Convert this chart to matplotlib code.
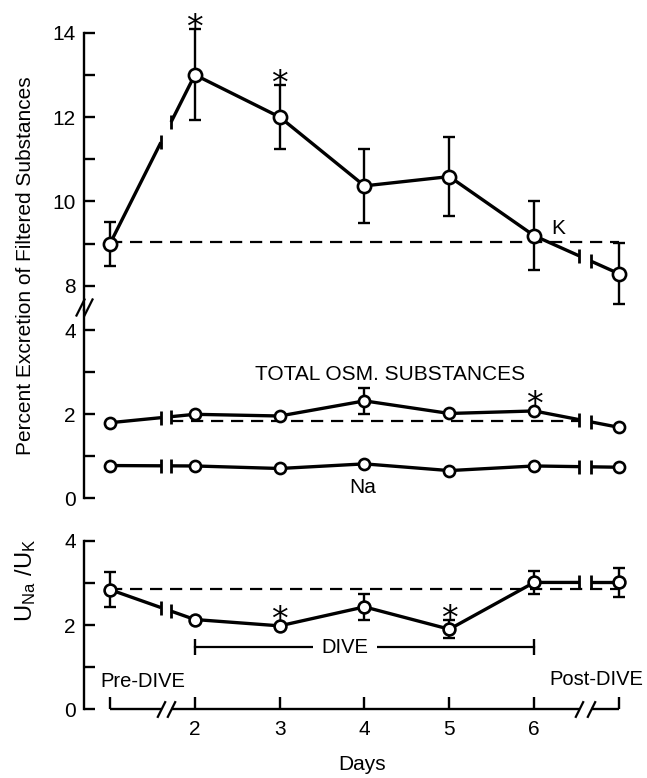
import matplotlib.pyplot as plt
import numpy as np

plt.rcParams['font.family'] = ['Liberation Sans', 'DejaVu Sans']
plt.rcParams['mathtext.default'] = 'regular'

# Values
days = np.array([1, 2, 3, 4, 5, 6, 7])
day_labels = ['', '2', '3', '4', '5', '6', '']

k_mean = np.array([9.0, 13.0, 12.0, 10.37, 10.59, 9.19, 8.29])
k_err = np.array([0.52, 1.08, 0.75, 0.87, 0.93, 0.81, 0.72])
k_pre = 9.05
k_sig = [2, 3]

osm_mean = np.array([1.80, 2.00, 1.96, 2.32, 2.02, 2.08, 1.69])
osm_err = np.array([0, 0, 0, 0.31, 0, 0, 0])
osm_pre = 1.85
osm_sig = [6]

na_mean = np.array([0.78, 0.77, 0.71, 0.82, 0.66, 0.77, 0.74])
na_err = np.zeros(7)

ratio_mean = np.array([2.84, 2.13, 1.98, 2.43, 1.90, 3.01, 3.01])
ratio_err = np.array([0.41, 0, 0, 0.31, 0.22, 0.28, 0.34])
ratio_pre = 2.86
ratio_sig = [3, 5]

dive_days = [2, 6]

# axis breaks between pre-dive / dive and dive / post-dive
gaps = [(1.60, 1.72), (6.53, 6.67)]
gap_x = np.ravel(gaps)

LW = 2.4
XLIM = (0.6934, 7.2476)


def draw_series(ax, mean, err, ms=8.5):
    xs = np.sort(np.concatenate([days, gap_x]))
    ys = np.interp(xs, days, mean)
    pieces = [xs <= gaps[0][0], (xs >= gaps[0][1]) & (xs <= gaps[1][0]), xs >= gaps[1][1]]
    for m in pieces:
        ax.plot(xs[m], ys[m], color='k', lw=LW, solid_capstyle='butt', zorder=2)
    ax.plot(gap_x, np.interp(gap_x, days, mean), ls='none', marker='|',
            ms=10, mew=2, color='k', zorder=2)
    has_err = err > 0
    ax.errorbar(days[has_err], mean[has_err], yerr=err[has_err], fmt='none',
                ecolor='k', elinewidth=1.7, capsize=4.5, capthick=1.7,
                clip_on=False, zorder=3)
    ax.plot(days, mean, ls='none', marker='o', ms=ms, mfc='white', mec='k',
            mew=1.9, clip_on=False, zorder=4)


def star(ax, sig, mean, err):
    for d in sig:
        i = d - 1
        dy = -6.3 if err[i] > 0 else -2.7
        ax.annotate('*', (d, mean[i] + err[i]), xytext=(0, dy),
                    textcoords='offset points', ha='center', va='baseline',
                    fontsize=24, family='DejaVu Sans', annotation_clip=False)


def style(ax, ylim, yticks, ylabels):
    ax.set_xlim(*XLIM)
    ax.set_ylim(*ylim)
    for s in ['top', 'right', 'bottom']:
        ax.spines[s].set_visible(False)
    ax.spines['left'].set_linewidth(1.7)
    ax.set_yticks(yticks)
    ax.set_yticklabels(ylabels)
    ax.tick_params(axis='y', direction='in', length=8, width=1.7, pad=6, labelsize=15)
    ax.set_xticks([])
    ax.patch.set_visible(False)


fig = plt.figure(figsize=(6.47, 7.78), dpi=100)
ax1 = fig.add_axes([0.1298, 0.6015, 0.8594, 0.3675])
ax2 = fig.add_axes([0.1298, 0.3595, 0.8594, 0.2420])
ax3 = fig.add_axes([0.1298, 0.0883, 0.8594, 0.2167])

# K panel
style(ax1, (7.43, 14.2), range(8, 15), ['8', '', '10', '', '12', '', '14'])
ax1.spines['left'].set_bounds(7.43, 14)
ax1.plot([1, 7], [k_pre, k_pre], color='k', lw=1.6, dashes=(5.5, 3.5), zorder=1)
draw_series(ax1, k_mean, k_err, ms=9.5)
star(ax1, k_sig, k_mean, k_err)
ax1.text(6.28, 9.37, 'K', ha='center', va='center', fontsize=15)
trans = ax1.get_yaxis_transform()
ax1.plot([-0.007, 0.007], [7.5, 7.5], transform=trans, ls='none',
         marker=[(-0.5, -1), (0.5, 1)], ms=13, mew=1.6, color='k', clip_on=False)

# Total osmolar substances and Na panel
style(ax2, (0, 4.483), range(0, 5), ['0', '', '2', '', '4'])
ax2.plot([gaps[0][1], gaps[1][0]], [osm_pre, osm_pre], color='k', lw=1.6,
         dashes=(5.5, 3.5), zorder=1)
draw_series(ax2, osm_mean, osm_err, ms=8)
draw_series(ax2, na_mean, na_err, ms=8)
star(ax2, osm_sig, osm_mean, osm_err)
ax2.text(4.30, 2.94, 'TOTAL OSM. SUBSTANCES', ha='center', va='center', fontsize=15)
ax2.text(3.98, 0.25, 'Na', ha='center', va='center', fontsize=15)

# U_Na / U_K panel
style(ax3, (0, 4), range(0, 5), ['0', '', '2', '', '4'])
ax3.plot([1, 7], [ratio_pre, ratio_pre], color='k', lw=1.6, dashes=(5.5, 3.5), zorder=1)
draw_series(ax3, ratio_mean, ratio_err, ms=8.5)
star(ax3, ratio_sig, ratio_mean, ratio_err)

ax3.plot(dive_days, [1.47, 1.47], color='k', lw=1.6, marker='|', ms=11, mew=1.7)
ax3.text(3.77, 1.47, 'DIVE', ha='center', va='center', fontsize=14.5,
         bbox=dict(facecolor='white', edgecolor='none', pad=6))
ax3.text(0.89, 0.65, 'Pre-DIVE', ha='left', va='center', fontsize=14.5)
ax3.text(7.285, 0.70, 'Post-DIVE', ha='right', va='center', fontsize=14.5)

# broken x axis
for a, b in [(1, gaps[0][0]), (gaps[0][1], gaps[1][0]), (gaps[1][1], 7)]:
    ax3.plot([a, b], [0, 0], color='k', lw=1.7, clip_on=False, solid_capstyle='butt')
ax3.plot(gap_x, np.zeros(4), ls='none', marker=[(-0.5, -1), (0.5, 1)], ms=12,
         mew=1.6, color='k', clip_on=False)
ax3.set_xticks(days)
ax3.set_xticklabels(day_labels)
ax3.tick_params(axis='x', direction='in', length=9, width=1.7, pad=8, labelsize=15)
ax3.set_xlabel('Days', fontsize=15, labelpad=11)

fig.text(26 / 647, 1 - 266 / 778, 'Percent Excretion of Filtered Substances',
         rotation=90, ha='center', va='center', fontsize=15)
fig.text(26 / 647, 1 - 580 / 778, r'$U_{Na}\ /U_K$', rotation=90,
         ha='center', va='center', fontsize=17)

fig.savefig('out.png', dpi=100)
plt.close(fig)
print('Plot saved')
